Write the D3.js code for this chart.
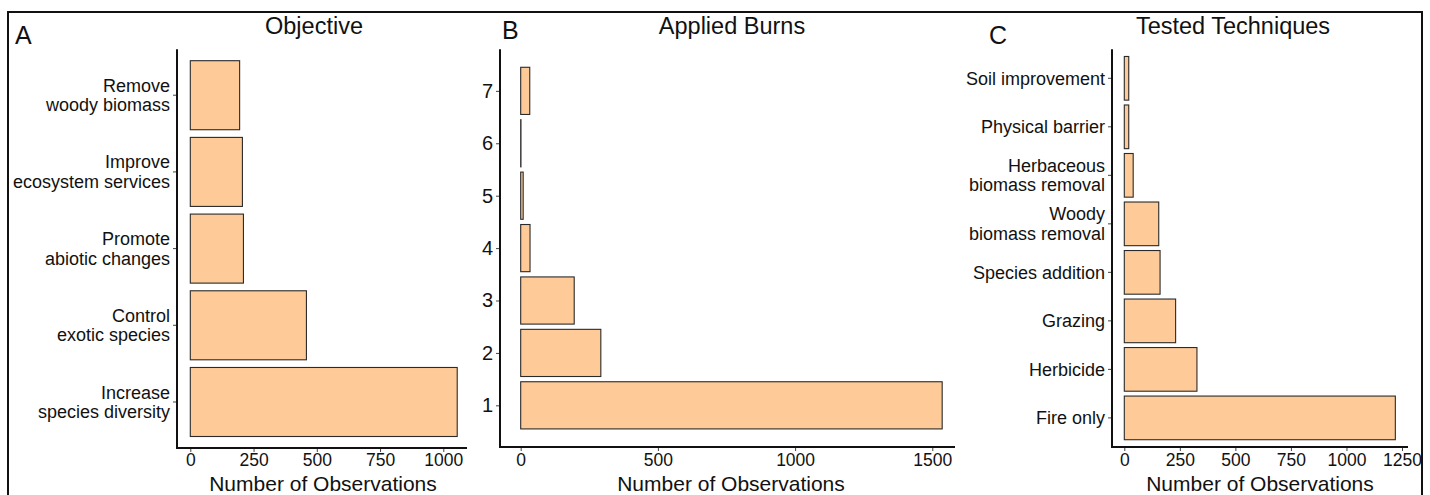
<!DOCTYPE html>
<html>
<head>
<meta charset="utf-8">
<script src="https://cdn.jsdelivr.net/npm/d3@7"></script>
<style>
  body { margin: 0; background: #fff; }
  svg { display: block; }
  text { font-family: "Liberation Sans", Arial, sans-serif; fill: #111; }
</style>
</head>
<body>
<svg id="chart" width="1430" height="495"></svg>
<script>
// Panel A: restoration objectives (top to bottom)
const objectiveCategories = [
  "Remove\nwoody biomass",
  "Improve\necosystem services",
  "Promote\nabiotic changes",
  "Control\nexotic species",
  "Increase\nspecies diversity"
];
const objectiveValues = [195, 206, 210, 459, 1055];
const objectiveTicks = [0, 250, 500, 750, 1000];

// Panel B: number of applied burns
const burnCounts = [1, 2, 3, 4, 5, 6, 7];
const burnValues = [1536, 292, 195, 34, 9, 1, 33];
const burnTicks = [0, 500, 1000, 1500];

// Panel C: techniques tested together with fire (top to bottom)
const techniqueCategories = [
  "Soil improvement",
  "Physical barrier",
  "Herbaceous\nbiomass removal",
  "Woody\nbiomass removal",
  "Species addition",
  "Grazing",
  "Herbicide",
  "Fire only"
];
const techniqueValues = [20, 20, 40, 155, 161, 231, 327, 1220];
const techniqueTicks = [0, 250, 500, 750, 1000, 1250];

const xTitle = "Number of Observations";

const BAR_FILL = "#FECB98";
const BAR_STROKE = "#2a2a2a";
const LABEL_SIZE = 18;
const TICK_SIZE = 17.5;

const svg = d3.select("#chart");

// outer frame around the whole figure
svg.append("rect")
  .attr("x", 8).attr("y", 12)
  .attr("width", 1414).attr("height", 500)
  .attr("fill", "none").attr("stroke", "#111").attr("stroke-width", 2);

function drawFrame(g, p, x) {
  // axis lines
  g.append("line")
    .attr("x1", p.axisLeft).attr("x2", p.axisLeft)
    .attr("y1", p.top).attr("y2", p.bottom + 1)
    .attr("stroke", "#111").attr("stroke-width", 2);
  g.append("line")
    .attr("x1", p.axisLeft - 1).attr("x2", p.axisRight)
    .attr("y1", p.bottom).attr("y2", p.bottom)
    .attr("stroke", "#111").attr("stroke-width", 2);

  // x axis ticks & labels
  const xa = g.append("g").attr("transform", `translate(0,${p.bottom + 1})`)
    .call(d3.axisBottom(x).tickValues(p.ticks).tickFormat(d3.format("d"))
      .tickSize(3).tickSizeOuter(0).tickPadding(3));
  xa.select(".domain").remove();
  xa.selectAll(".tick line").attr("stroke", "#444");
  xa.selectAll(".tick text")
    .attr("font-size", TICK_SIZE)
    .attr("font-family", "Liberation Sans, Arial, sans-serif")
    .attr("fill", "#111")
    .attr("y", null).attr("dy", null)
    .attr("transform", `translate(0,${466 - p.bottom - 1})`);

  // axis title
  g.append("text")
    .attr("x", p.xTitleX).attr("y", 490.5)
    .attr("text-anchor", "middle")
    .attr("font-size", 21)
    .text(xTitle);

  // panel title & letter
  g.append("text")
    .attr("x", p.titleX).attr("y", 33.5)
    .attr("text-anchor", "middle")
    .attr("font-size", 23.5)
    .text(p.title);
  g.append("text")
    .attr("x", p.letterX).attr("y", p.letterY)
    .attr("font-size", 25)
    .text(p.letter);
}

function categoryPanel(p, cats, vals) {
  const g = svg.append("g");
  const x = d3.scaleLinear()
    .domain([0, p.refTick])
    .range([p.zeroX, p.refX]);
  const y = d3.scaleBand()
    .domain(cats)
    .range([p.top, p.bottom])
    .paddingInner(0.1)
    .paddingOuter(0.15);

  g.selectAll("rect.bar")
    .data(cats.map((c, i) => ({ c, v: vals[i] })))
    .join("rect")
    .attr("class", "bar")
    .attr("x", x(0))
    .attr("y", d => y(d.c))
    .attr("width", d => x(d.v) - x(0))
    .attr("height", y.bandwidth())
    .attr("fill", BAR_FILL)
    .attr("stroke", BAR_STROKE)
    .attr("stroke-width", 1.1);

  drawFrame(g, p, x);

  // y axis ticks with multi-line labels
  const ya = g.append("g").attr("transform", `translate(${p.axisLeft - 1},0)`)
    .call(d3.axisLeft(y).tickSize(3).tickSizeOuter(0).tickPadding(3));
  ya.select(".domain").remove();
  ya.selectAll(".tick line").attr("stroke", "#444");
  ya.selectAll(".tick text").each(function (d) {
    const t = d3.select(this);
    const lines = d.split("\n");
    t.text(null)
      .attr("font-size", LABEL_SIZE)
      .attr("font-family", "Liberation Sans, Arial, sans-serif")
      .attr("fill", "#111")
      .attr("dy", null)
      .attr("x", -6);
    const lh = 19.5;
    const start = -(lines.length - 1) * lh / 2 + LABEL_SIZE * 0.35;
    lines.forEach((ln, i) => {
      t.append("tspan")
        .attr("x", -6)
        .attr("y", start + i * lh)
        .text(ln);
    });
  });
}

function burnPanel(p) {
  const g = svg.append("g");
  const x = d3.scaleLinear()
    .domain([0, p.refTick])
    .range([p.zeroX, p.refX]);
  const y = d3.scaleLinear()
    .domain([0.205, 7.795])
    .range([p.bottom, p.top]);

  g.selectAll("rect.bar")
    .data(burnCounts.map((c, i) => ({ c, v: burnValues[i] })))
    .join("rect")
    .attr("class", "bar")
    .attr("x", x(0))
    .attr("y", d => y(d.c + 0.45))
    .attr("width", d => x(d.v) - x(0))
    .attr("height", d => y(d.c - 0.45) - y(d.c + 0.45))
    .attr("fill", BAR_FILL)
    .attr("stroke", BAR_STROKE)
    .attr("stroke-width", 1.1);

  drawFrame(g, p, x);

  const ya = g.append("g").attr("transform", `translate(${p.axisLeft - 1},0)`)
    .call(d3.axisLeft(y).tickValues(burnCounts).tickFormat(d3.format("d"))
      .tickSize(3).tickSizeOuter(0).tickPadding(3));
  ya.select(".domain").remove();
  ya.selectAll(".tick line").attr("stroke", "#444");
  ya.selectAll(".tick text")
    .attr("font-size", 20)
    .attr("font-family", "Liberation Sans, Arial, sans-serif")
    .attr("fill", "#111");
}

categoryPanel({
  letter: "A", letterX: 15, letterY: 44,
  title: "Objective", titleX: 314,
  axisLeft: 177, axisRight: 467,
  zeroX: 190.3, refTick: 1000, refX: 443.3,
  top: 49.2, bottom: 448,
  ticks: objectiveTicks, xTitleX: 323
}, objectiveCategories, objectiveValues);

burnPanel({
  letter: "B", letterX: 502, letterY: 39,
  title: "Applied Burns", titleX: 732,
  axisLeft: 500, axisRight: 955,
  zeroX: 520.7, refTick: 1500, refX: 932.3,
  top: 49.2, bottom: 447,
  ticks: burnTicks, xTitleX: 731
});

categoryPanel({
  letter: "C", letterX: 989, letterY: 44,
  title: "Tested Techniques", titleX: 1233,
  axisLeft: 1112, axisRight: 1408,
  zeroX: 1124.3, refTick: 1250, refX: 1402,
  top: 49.2, bottom: 447,
  ticks: techniqueTicks, xTitleX: 1260
}, techniqueCategories, techniqueValues);
</script>
</body>
</html>
